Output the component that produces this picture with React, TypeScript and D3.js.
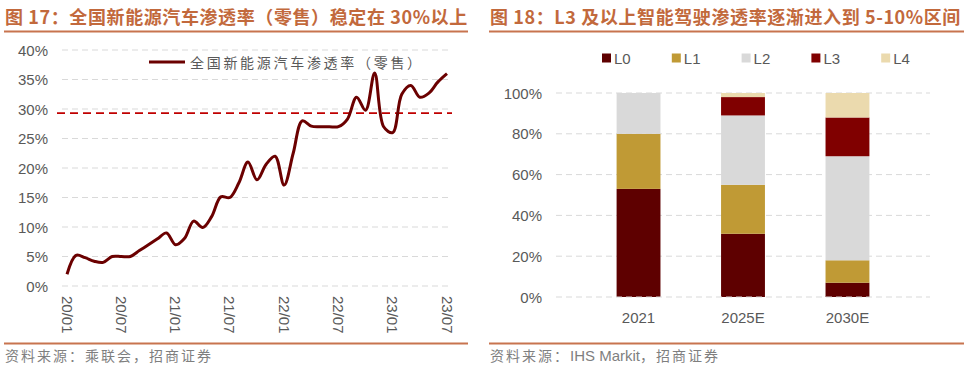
import React from "react";
import * as d3 from "d3";

// left chart: monthly NEV retail penetration, 2020/01 - 2023/07
const months = [
  "20/01", "20/02", "20/03", "20/04", "20/05", "20/06", "20/07", "20/08", "20/09", "20/10", "20/11", "20/12",
  "21/01", "21/02", "21/03", "21/04", "21/05", "21/06", "21/07", "21/08", "21/09", "21/10", "21/11", "21/12",
  "22/01", "22/02", "22/03", "22/04", "22/05", "22/06", "22/07", "22/08", "22/09", "22/10", "22/11", "22/12",
  "23/01", "23/02", "23/03", "23/04", "23/05", "23/06", "23/07",
];
const penetration = [
  2.0, 5.2, 4.8, 4.2, 4.0, 5.0, 5.0, 5.0, 6.0, 7.0, 8.0, 9.0,
  7.0, 8.1, 11.0, 9.9, 11.8, 15.1, 15.0, 17.5, 21.0, 18.0, 20.6, 22.0,
  17.1, 22.5, 28.0, 27.1, 27.0, 27.0, 27.0, 28.3, 32.0, 29.8, 36.1, 27.0,
  26.0, 32.5, 34.0, 32.0, 32.7, 34.6, 36.0,
];
const thresholdLine = 29.3;
const leftTicks = [0, 5, 10, 15, 20, 25, 30, 35, 40];
const leftXLabels = ["20/01", "20/07", "21/01", "21/07", "22/01", "22/07", "23/01", "23/07"];

// right chart: autonomy level mix
const years = ["2021", "2025E", "2030E"];
const levels = ["L0", "L1", "L2", "L3", "L4"];
const L0 = [53, 31, 7];
const L1 = [27, 24, 11];
const L2 = [20, 34, 51];
const L3 = [0, 9, 19];
const L4 = [0, 2, 12];
const rightTicks = [0, 20, 40, 60, 80, 100];
const levelColors = ["#5E0000", "#C09A35", "#D9D9D9", "#800000", "#EBDAAE"];

const titleColor = "#C2693C";
const lineColor = "#C8744F";
const axisText = "#595959";
const latin = "'Liberation Sans', Arial, 'Noto Sans CJK SC', sans-serif";
const cjk = "'Noto Sans CJK SC', 'Liberation Sans', sans-serif";

export default function App() {
  // left
  const xL = d3.scalePoint<string>().domain(months).range([67, 447]);
  const yL = d3.scaleLinear().domain([0, 40]).range([286, 50]);
  const line = d3
    .line<number>()
    .x((_, i) => xL(months[i]) as number)
    .y((d) => yL(d))
    .curve(d3.curveCatmullRom.alpha(0.5));

  // right
  const xR = d3.scaleBand<string>().domain(years).range([556, 930]).padding(0.58);
  const yR = d3.scaleLinear().domain([0, 100]).range([297, 93]);
  const rows = years.map((y, i) => ({
    year: y,
    L0: L0[i],
    L1: L1[i],
    L2: L2[i],
    L3: L3[i],
    L4: L4[i],
  }));
  const stacked = d3.stack<any>().keys(levels)(rows);

  return (
    <svg
      width={966}
      height={365}
      style={{ position: "absolute", left: 0, top: 0, background: "#fff" }}
    >
      {/* titles */}
      <text x={5} y={24} fill={titleColor} fontFamily={cjk} fontWeight="bold" fontSize={18} letterSpacing={0.6}>
        图 17：全国新能源汽车渗透率（零售）稳定在 30%以上
      </text>
      <line x1={4} x2={468} y1={31.5} y2={31.5} stroke={lineColor} strokeWidth={2} />
      <text x={490} y={24} fill={titleColor} fontFamily={cjk} fontWeight="bold" fontSize={18} letterSpacing={0.6}>
        图 18：L3 及以上智能驾驶渗透率逐渐进入到 5-10%区间
      </text>
      <line x1={489} x2={964} y1={31.5} y2={31.5} stroke={lineColor} strokeWidth={2} />

      {/* left grid + y axis */}
      {leftTicks.map((t) => (
        <g key={t}>
          <line x1={62} x2={452} y1={yL(t)} y2={yL(t)} stroke="#D9D9D9" strokeDasharray="6,4" />
          <text x={48} y={yL(t)} textAnchor="end" dominantBaseline="central" fill={axisText} fontFamily={latin} fontSize={15}>
            {t}%
          </text>
        </g>
      ))}
      {leftXLabels.map((m) => (
        <text
          key={m}
          transform={`translate(${xL(m)},296) rotate(90)`}
          dominantBaseline="central"
          fill={axisText}
          fontFamily={latin}
          fontSize={15}
        >
          {m}
        </text>
      ))}
      <line
        x1={57}
        x2={452}
        y1={yL(thresholdLine)}
        y2={yL(thresholdLine)}
        stroke="#C00000"
        strokeWidth={1.8}
        strokeDasharray="8,5"
      />
      <path d={line(penetration) || ""} fill="none" stroke="#6B0000" strokeWidth={3} />
      <line x1={149} x2={185} y1={62} y2={62} stroke="#6B0000" strokeWidth={3} />
      <text x={190} y={62} dominantBaseline="central" fill={axisText} fontFamily={cjk} fontSize={14} letterSpacing={2.7}>
        全国新能源汽车渗透率（零售）
      </text>

      {/* right grid + y axis */}
      {rightTicks.map((t) => (
        <g key={t}>
          {t > 0 && <line x1={556} x2={930} y1={yR(t)} y2={yR(t)} stroke="#D9D9D9" strokeDasharray="6,4" />}
          <text x={542} y={yR(t)} textAnchor="end" dominantBaseline="central" fill={axisText} fontFamily={latin} fontSize={15}>
            {t}%
          </text>
        </g>
      ))}
      {stacked.map((s, k) => (
        <g key={s.key} fill={levelColors[k]}>
          {s.map((d, i) =>
            d[1] - d[0] > 0 ? (
              <rect
                key={i}
                x={xR(years[i])}
                width={xR.bandwidth()}
                y={yR(d[1])}
                height={yR(d[0]) - yR(d[1])}
              />
            ) : null
          )}
        </g>
      ))}
      <line x1={556} x2={930} y1={yR(0)} y2={yR(0)} stroke="#D9D9D9" strokeDasharray="6,4" />
      {years.map((y) => (
        <text
          key={y}
          x={(xR(y) as number) + xR.bandwidth() / 2}
          y={317}
          textAnchor="middle"
          dominantBaseline="central"
          fill={axisText}
          fontFamily={latin}
          fontSize={15}
        >
          {y}
        </text>
      ))}
      {levels.map((l, k) => (
        <g key={l} transform={`translate(${602 + k * 69.8},58)`}>
          <rect x={0} y={-4.5} width={9} height={9} fill={levelColors[k]} />
          <text x={12} y={0} dominantBaseline="central" fill={axisText} fontFamily={latin} fontSize={15}>
            {l}
          </text>
        </g>
      ))}

      {/* footers */}
      <line x1={4} x2={468} y1={343.5} y2={343.5} stroke={lineColor} strokeWidth={2} />
      <line x1={489} x2={964} y1={343.5} y2={343.5} stroke={lineColor} strokeWidth={2} />
      <text x={5} y={355} dominantBaseline="central" fill="#7F7F7F" fontFamily={cjk} fontSize={14} letterSpacing={2}>
        资料来源：乘联会，招商证券
      </text>
      <text x={490} y={355} dominantBaseline="central" fill="#7F7F7F" fontFamily={cjk} fontSize={14}>
        <tspan letterSpacing={2}>资料来源：</tspan>
        <tspan fontFamily={latin} fontSize={15}>IHS Markit</tspan>
        <tspan letterSpacing={2}>，招商证券</tspan>
      </text>
    </svg>
  );
}
